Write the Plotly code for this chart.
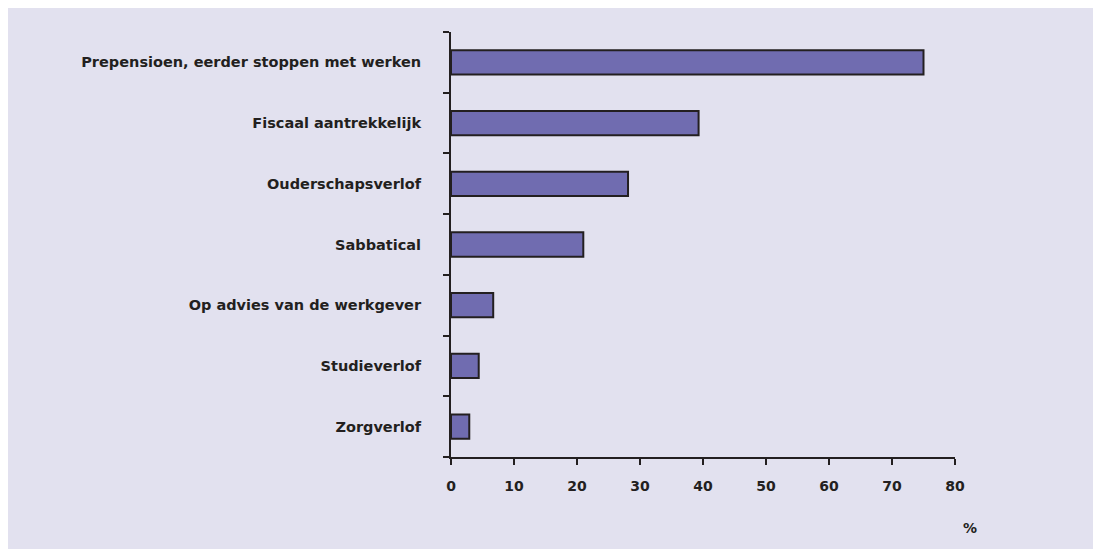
import plotly.graph_objects as go

categories = [
    "Prepensioen, eerder stoppen met werken",
    "Fiscaal aantrekkelijk",
    "Ouderschapsverlof",
    "Sabbatical",
    "Op advies van de werkgever",
    "Studieverlof",
    "Zorgverlof",
]
values = [75, 39.3, 28.1, 21, 6.7, 4.4, 2.9]
x_ticks = [0, 10, 20, 30, 40, 50, 60, 70, 80]

BG = "#e2e1ef"
BAR = "#706cb0"
DARK = "#231f20"
FONT = "DejaVu Sans"

fig = go.Figure(
    go.Bar(
        y=categories,
        x=values,
        orientation="h",
        width=0.4,
        marker=dict(color=BAR, line=dict(color=DARK, width=2)),
    )
)

OFF = 8  # page body margin
W, H = 1093, 542
# screen-pixel positions of the plot area
SL, SR, ST, SB = 451, 955, 32, 457
L, R, T, B = SL - OFF, SR - OFF, ST - OFF, SB - OFF
pw, ph = SR - SL, SB - ST

def px_x(p):
    return (p - SL) / pw

def px_y(p):
    return (SB - p) / ph

fig.add_shape(
    type="rect", xref="paper", yref="paper",
    x0=px_x(8), x1=px_x(1120), y0=px_y(549), y1=px_y(7),
    fillcolor=BG, line=dict(width=0), layer="below",
)

fig.add_annotation(
    x=px_x(970), y=px_y(528), xref="paper", yref="paper",
    xanchor="center", yanchor="middle",
    text="%", showarrow=False,
    font=dict(family=FONT, size=14, color=DARK, weight="bold"),
)

fig.update_layout(
    width=W, height=H,
    margin=dict(l=L, r=W - R, t=T, b=H - B, pad=0),
    paper_bgcolor="white",
    plot_bgcolor="rgba(0,0,0,0)",
    showlegend=False,
)
fig.update_xaxes(
    range=[0, 80], tickvals=x_ticks, showgrid=False, zeroline=False,
    showline=True, linecolor=DARK, linewidth=2,
    ticks="outside", tickcolor=DARK, tickwidth=2, ticklen=6,
    ticklabelstandoff=9,
    tickfont=dict(family=FONT, size=14, color=DARK, weight="bold"),
)
fig.update_yaxes(
    categoryorder="array", categoryarray=categories[::-1],
    showgrid=False, zeroline=False,
    showline=True, linecolor=DARK, linewidth=2,
    ticks="outside", tickson="boundaries", tickcolor=DARK, tickwidth=2, ticklen=6,
    ticklabelstandoff=25,
    tickfont=dict(family=FONT, size=14.5, color=DARK, weight="bold"),
)

fig.write_html("out.html")
